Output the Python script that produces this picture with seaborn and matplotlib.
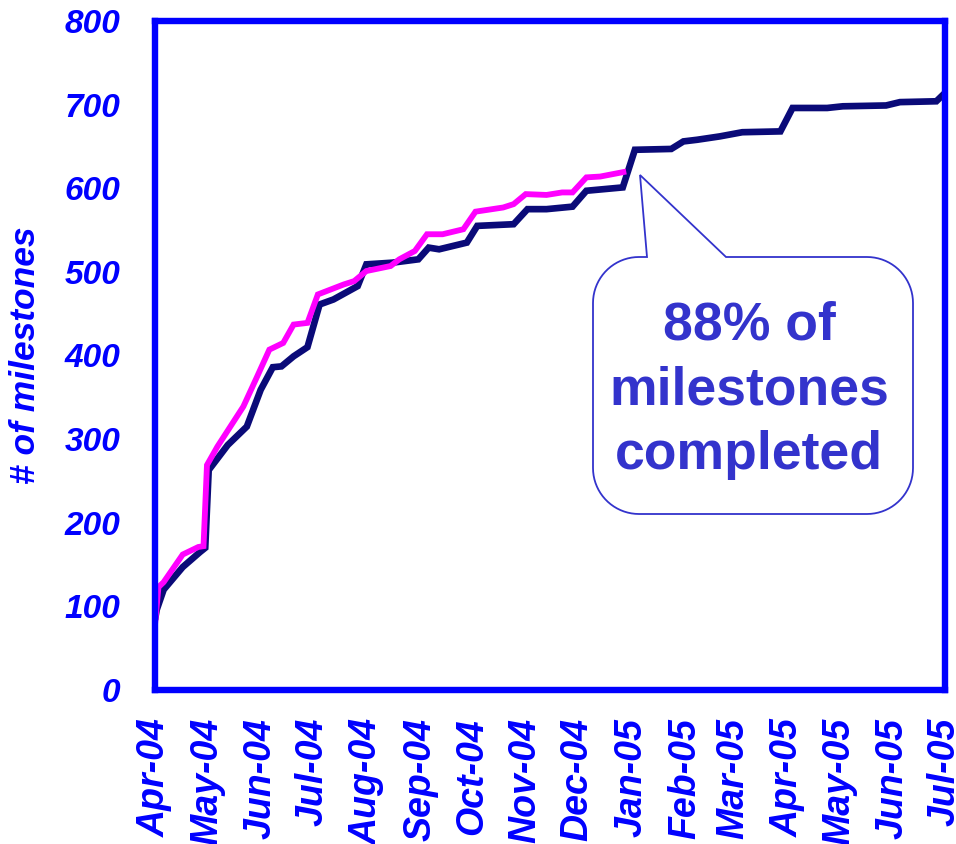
import numpy as np
import pandas as pd
import matplotlib
matplotlib.use("Agg")
import matplotlib.pyplot as plt
import matplotlib.dates as mdates
from matplotlib.path import Path
from matplotlib.patches import PathPatch
import seaborn as sns

# Cumulative milestones completed (dark series)
actual_dates = [
    "2004-04-01", "2004-04-02", "2004-04-06", "2004-04-17", "2004-04-27", "2004-04-30",
    "2004-05-02", "2004-05-13", "2004-05-24", "2004-06-01", "2004-06-08", "2004-06-13",
    "2004-06-20", "2004-06-28", "2004-07-05", "2004-07-13", "2004-07-27", "2004-08-01",
    "2004-08-16", "2004-08-31", "2004-09-06", "2004-09-12", "2004-09-28", "2004-10-04",
    "2004-10-25", "2004-11-02", "2004-11-13", "2004-11-28", "2004-12-06", "2004-12-27",
    "2005-01-03", "2005-01-24", "2005-01-31", "2005-02-08", "2005-02-21", "2005-03-06",
    "2005-03-28", "2005-04-04", "2005-04-24", "2005-05-03", "2005-05-28", "2005-06-05",
    "2005-06-26", "2005-07-01",
]
actual_values = [
    84, 96, 120, 147, 165, 170,
    263, 293, 315, 359, 386, 387,
    399, 410, 461, 467, 483, 509,
    511, 515, 529, 527, 535, 555,
    557, 575, 575, 578, 597, 601,
    646, 647, 656, 658, 662, 667,
    668, 696, 696, 698, 699, 703,
    704, 714,
]

# Planned cumulative milestones (magenta series)
plan_dates = [
    "2004-04-01", "2004-04-03", "2004-04-06", "2004-04-17", "2004-04-26", "2004-04-29",
    "2004-05-01", "2004-05-07", "2004-05-22", "2004-05-30", "2004-06-06", "2004-06-14",
    "2004-06-20", "2004-06-28", "2004-07-04", "2004-07-19", "2004-07-25", "2004-08-01",
    "2004-08-15", "2004-08-20", "2004-08-29", "2004-09-05", "2004-09-14", "2004-09-26",
    "2004-10-03", "2004-10-19", "2004-10-25", "2004-11-01", "2004-11-13", "2004-11-22",
    "2004-11-28", "2004-12-06", "2004-12-14", "2004-12-29",
]
plan_values = [
    78, 123, 129, 162, 171, 172,
    269, 291, 339, 375, 407, 415,
    437, 439, 473, 485, 489, 501,
    507, 515, 525, 545, 545, 551,
    572, 577, 581, 593, 592, 595,
    595, 613, 614, 620,
]

month_ticks = pd.date_range("2004-04-01", "2005-07-01", freq="MS")
y_ticks = [0, 100, 200, 300, 400, 500, 600, 700, 800]
callout_text = "88% of\nmilestones\ncompleted"

actual = pd.DataFrame({"date": pd.to_datetime(actual_dates), "value": actual_values})
plan = pd.DataFrame({"date": pd.to_datetime(plan_dates), "value": plan_values})

sns.set_theme(style="white")
plt.rcParams["font.family"] = ["Liberation Sans", "DejaVu Sans"]

BLUE = "#0000FF"
NAVY = "#0A0A78"
MAGENTA = "#FF00FF"
CALLOUT = "#3333CC"

W, H = 956, 844
fig = plt.figure(figsize=(W / 100, H / 100), dpi=100)
L, R, T, B = 155, 945, 21, 690
ax = fig.add_axes([L / W, 1 - B / H, (R - L) / W, (B - T) / H])

sns.lineplot(data=actual, x="date", y="value", ax=ax, color=NAVY,
             linewidth=4.8, solid_joinstyle="miter", solid_capstyle="butt")
sns.lineplot(data=plan, x="date", y="value", ax=ax, color=MAGENTA,
             linewidth=4.2, solid_joinstyle="miter", solid_capstyle="butt")

ax.set_xlim(month_ticks[0], month_ticks[-1])
ax.set_ylim(0, 800)
ax.set_xticks(month_ticks)
ax.xaxis.set_major_formatter(mdates.DateFormatter("%b-%y"))
ax.set_yticks(y_ticks)

for s in ax.spines.values():
    s.set_visible(True)
    s.set_color(BLUE)
    s.set_linewidth(4.6)

ax.tick_params(axis="both", which="major", direction="out", color=BLUE,
               width=4.6, labelcolor=BLUE)
ax.tick_params(axis="y", length=10, pad=15, labelsize=24)
ax.tick_params(axis="x", length=9, pad=11, labelsize=27)
for lab in ax.get_xticklabels():
    lab.set_rotation(90)
    lab.set_fontweight("bold")
    lab.set_fontstyle("italic")
    lab.set_va("top")
    lab.set_ha("center")
for lab in ax.get_yticklabels():
    lab.set_fontweight("bold")
    lab.set_fontstyle("italic")

ax.set_xlabel("")
ax.set_ylabel("")
fig.text(26 / W, 1 - 355 / H, "# of milestones", rotation=90, ha="center",
         va="center", color=BLUE, fontsize=25.5, fontweight="bold",
         fontstyle="italic")

# Speech-bubble callout built in figure pixel space
def to_fig(px, py):
    return (px / W, 1 - py / H)

bx0, bx1, by0, by1, rad = 593, 913, 257, 514, 46
tip = (640, 175)
base_l, base_r = 647, 726

def arc(cx, cy, r, a0, a1, n=20):
    t = np.linspace(np.radians(a0), np.radians(a1), n)
    return [(cx + r * np.cos(t_), cy - r * np.sin(t_)) for t_ in t]

pts = []
pts.append((base_r, by0))
pts += arc(bx1 - rad, by0 + rad, rad, 90, 0)
pts += arc(bx1 - rad, by1 - rad, rad, 0, -90)
pts += arc(bx0 + rad, by1 - rad, rad, -90, -180)
pts += arc(bx0 + rad, by0 + rad, rad, 180, 90)
pts.append((base_l, by0))
pts.append(tip)
pts.append((base_r, by0))
verts = [to_fig(*p) for p in pts]
codes = [Path.MOVETO] + [Path.LINETO] * (len(verts) - 2) + [Path.CLOSEPOLY]
bubble = PathPatch(Path(verts, codes), transform=fig.transFigure,
                   facecolor="white", edgecolor=CALLOUT, linewidth=1.3,
                   zorder=5)
fig.add_artist(bubble)
fig.text(749 / W, 1 - 390 / H, callout_text, ha="center", va="center",
         color=CALLOUT, fontsize=38.5, fontweight="bold", linespacing=1.38,
         zorder=6)

fig.savefig("out.png", dpi=100)
